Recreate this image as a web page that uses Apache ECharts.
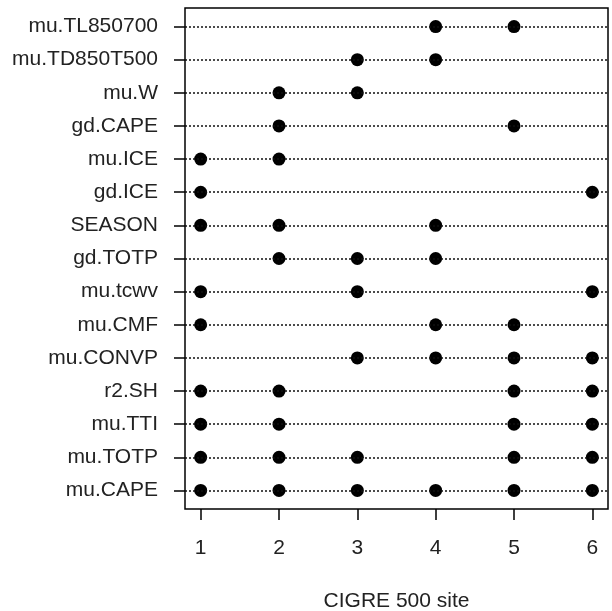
<!DOCTYPE html>
<html>
<head>
<meta charset="utf-8">
<script src="https://cdn.jsdelivr.net/npm/echarts@6/dist/echarts.min.js"></script>
<style>
  html, body { margin: 0; padding: 0; background: #fff; }
  #chart { width: 612px; height: 611px; }
</style>
</head>
<body>
<div id="chart"></div>
<script>
// rows from bottom to top
const categories = [
  'mu.CAPE', 'mu.TOTP', 'mu.TTI', 'r2.SH', 'mu.CONVP',
  'mu.CMF', 'mu.tcwv', 'gd.TOTP', 'SEASON', 'gd.ICE',
  'mu.ICE', 'gd.CAPE', 'mu.W', 'mu.TD850T500', 'mu.TL850700'
]
// CIGRE 500 sites where each variable was selected
const sites = [
  [1, 2, 3, 4, 5, 6],
  [1, 2, 3, 5, 6],
  [1, 2, 5, 6],
  [1, 2, 5, 6],
  [3, 4, 5, 6],
  [1, 4, 5],
  [1, 3, 6],
  [2, 3, 4],
  [1, 2, 4],
  [1, 6],
  [1, 2],
  [2, 5],
  [2, 3],
  [3, 4],
  [4, 5]
]
const siteTicks = [1, 2, 3, 4, 5, 6]

const rowIdx = categories.map((c, i) => i + 1)
const points = []
sites.forEach((list, i) => {
  list.forEach(s => points.push([s, i + 1]))
})

const font = 'Liberation Sans, Arial, sans-serif'
const chart = echarts.init(document.getElementById('chart'))

chart.setOption({
  animation: false,
  grid: {
    left: 185, right: 4, top: 8, bottom: 102,
    outerBoundsMode: 'none',
    containLabel: false,
    show: true, borderColor: '#000', borderWidth: 1.5,
    backgroundColor: 'transparent'
  },
  xAxis: {
    type: 'value',
    min: 0.8,
    max: 6.2,
    name: 'CIGRE 500 site',
    nameLocation: 'middle',
    nameGap: 82,
    nameTextStyle: { fontFamily: font, fontSize: 21, color: '#222' },
    axisLine: { show: false },
    splitLine: { show: false },
    axisTick: {
      show: true, customValues: siteTicks, length: 11,
      lineStyle: { color: '#000', width: 1.5 }
    },
    axisLabel: {
      customValues: siteTicks, margin: 29,
      fontFamily: font, fontSize: 21, color: '#222'
    }
  },
  yAxis: {
    type: 'value',
    min: 0.44,
    max: 15.56,
    axisLine: { show: false },
    splitLine: { show: false },
    axisTick: {
      show: true, customValues: rowIdx, length: 11,
      lineStyle: { color: '#000', width: 1.5 }
    },
    axisLabel: {
      customValues: rowIdx, margin: 27,
      fontFamily: font, fontSize: 21, color: '#222',
      formatter: v => categories[Math.round(v) - 1]
    }
  },
  series: [{
    type: 'scatter',
    data: points,
    symbol: 'circle',
    symbolSize: 13,
    itemStyle: { color: '#000', opacity: 1 },
    z: 3,
    markLine: {
      silent: true,
      symbol: 'none',
      label: { show: false },
      lineStyle: { color: '#111', type: [2, 2], width: 1.5, opacity: 1 },
      data: rowIdx.map(i => ({ yAxis: i }))
    }
  }]
})
</script>
</body>
</html>
